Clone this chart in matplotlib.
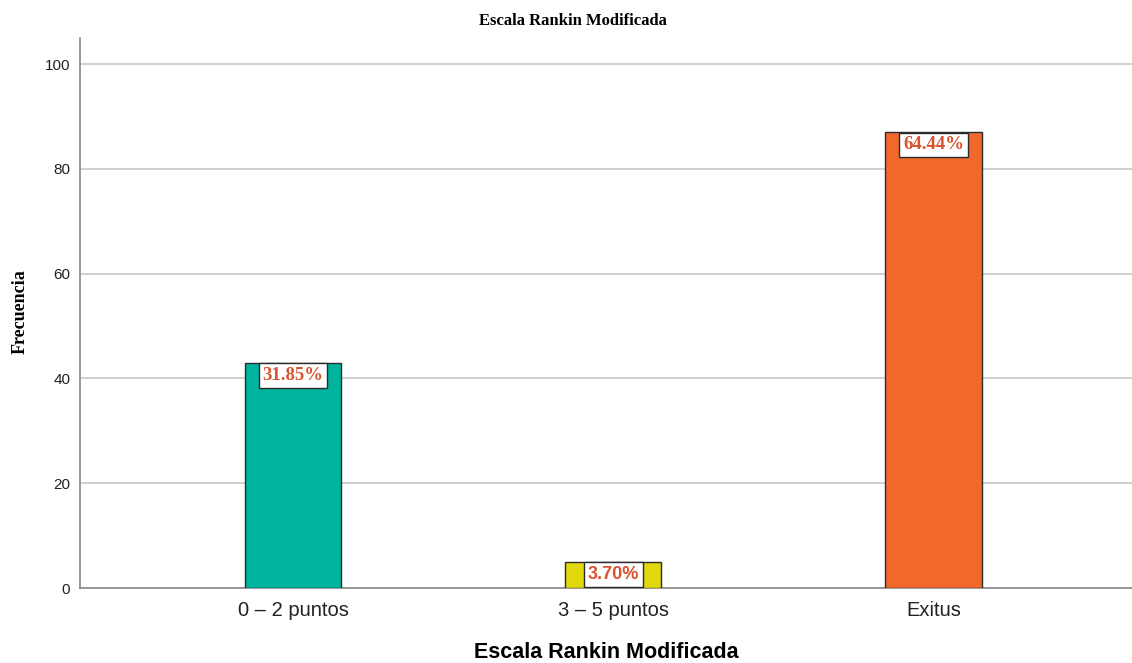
import matplotlib.pyplot as plt
import numpy as np

categorias = ['0 – 2 puntos', '3 – 5 puntos', 'Exitus']
frecuencias = [43, 5, 87]
porcentajes = ['31.85%', '3.70%', '64.44%']
colores = ['#00B39E', '#E1D80E', '#F2682A']
yticks = [0, 20, 40, 60, 80, 100]

fig = plt.figure(figsize=(11.32, 6.63), dpi=100)
ax = fig.add_axes([0.0707, 0.1131, 0.9293, 0.8296])

x = np.arange(len(categorias))
ax.bar(x, frecuencias, width=0.3, color=colores, edgecolor='#2b2b2b',
       linewidth=1.0, zorder=3)

# etiquetas de porcentaje dentro de la parte alta de cada barra
for xi, val, pct in zip(x, frecuencias, porcentajes):
    if pct == '3.70%':
        fuente = dict(family='Liberation Sans', fontweight='bold', fontsize=13)
    else:
        fuente = dict(family='Liberation Serif', fontweight='bold', fontsize=13.5)
    ax.annotate(pct, xy=(xi, val), xytext=(0, -3), textcoords='offset points',
                ha='center', va='top', color='#D9532F', zorder=5,
                bbox=dict(boxstyle='square,pad=0.2', fc='white',
                          ec='#2b2b2b', lw=1.0),
                **fuente)

ax.set_xlim(-0.666, 2.62)
ax.set_ylim(0, 105)
ax.set_yticks(yticks)
ax.set_xticks(x)
ax.set_xticklabels(categorias, fontsize=14.5, family='Liberation Sans',
                   color='#222222')
for lbl in ax.get_yticklabels():
    lbl.set_family('Liberation Sans')
    lbl.set_fontsize(11)
    lbl.set_color('#222222')

ax.yaxis.grid(True, color='#c8c8c8', linewidth=1.2, zorder=0)
ax.tick_params(axis='x', length=0, pad=9)
ax.tick_params(axis='y', length=0, pad=7)
for s in ['top', 'right']:
    ax.spines[s].set_visible(False)
for s in ['left', 'bottom']:
    ax.spines[s].set_color('#888888')
    ax.spines[s].set_linewidth(1.2)

fig.text(0.506, 0.968, 'Escala Rankin Modificada', ha='center', va='center',
         family='Liberation Serif', fontweight='bold', fontsize=12)
ax.set_xlabel('Escala Rankin Modificada', family='Liberation Sans',
              fontweight='bold', fontsize=15.5, labelpad=16)
fig.text(0.018, 0.53, 'Frecuencia', rotation=90, ha='center', va='center',
         family='Liberation Serif', fontweight='bold', fontsize=13)

fig.savefig('out.png', dpi=100)
